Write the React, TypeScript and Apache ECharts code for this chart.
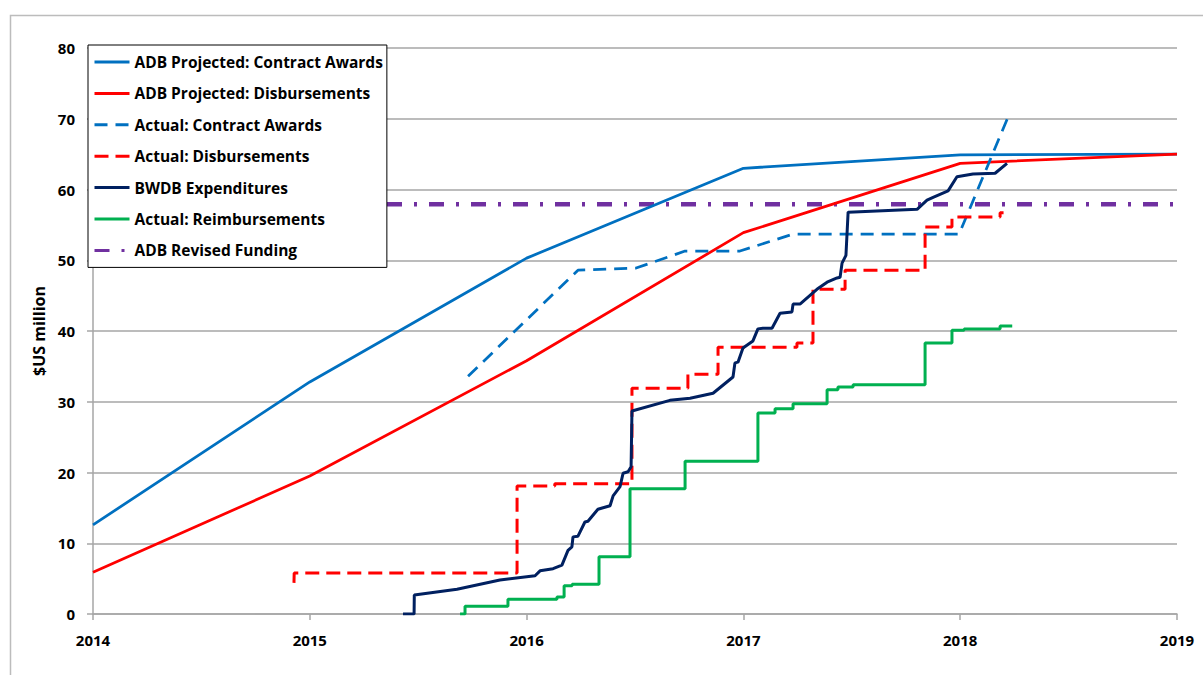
import React, { useEffect, useRef } from "react";
import * as echarts from "echarts";

// ---- Data (decimal years, $US million) ----
const projYears = [2014, 2015, 2016, 2017, 2018, 2019];
const projAwards = [12.6, 32.8, 50.3, 63.0, 64.9, 65.0];
const projDisb = [5.9, 19.5, 35.8, 53.9, 63.7, 65.0];

const actAwardsYears = [2015.73, 2016.237, 2016.505, 2016.731, 2016.984, 2017.229, 2017.995, 2018.22];
const actAwardsValues = [33.6, 48.6, 48.9, 51.3, 51.3, 53.7, 53.7, 70.2];

const actDisbYears = [2014.927, 2014.928, 2015.956, 2016.13, 2016.486, 2016.744, 2016.883, 2017.247, 2017.321, 2017.469, 2017.838, 2017.962, 2018.184, 2018.2];
const actDisbValues = [4.4, 5.8, 18.1, 18.4, 31.9, 33.9, 37.7, 38.3, 45.9, 48.6, 54.7, 56.1, 56.7, 56.7];

const bwdbYears = [
  2015.43, 2015.481, 2015.482, 2015.679, 2015.877, 2016.039, 2016.062, 2016.122, 2016.163, 2016.191,
  2016.209, 2016.214, 2016.237, 2016.269, 2016.283, 2016.329, 2016.385, 2016.399, 2016.431, 2016.445,
  2016.468, 2016.482, 2016.486, 2016.661, 2016.754, 2016.86, 2016.952, 2016.961, 2016.975, 2016.998,
  2017.044, 2017.067, 2017.09, 2017.132, 2017.169, 2017.224, 2017.229, 2017.261, 2017.339, 2017.386,
  2017.432, 2017.446, 2017.455, 2017.473, 2017.483, 2017.801, 2017.847, 2017.875, 2017.944, 2017.985,
  2018.059, 2018.161, 2018.216,
];
const bwdbValues = [
  0, 0, 2.7, 3.5, 4.8, 5.4, 6.1, 6.4, 6.9, 9.0,
  9.5, 10.9, 11.0, 13.0, 13.1, 14.8, 15.3, 16.7, 18.0, 19.9,
  20.1, 20.8, 28.7, 30.2, 30.5, 31.2, 33.5, 35.5, 35.6, 37.6,
  38.6, 40.3, 40.4, 40.4, 42.5, 42.7, 43.8, 43.8, 45.9, 46.9,
  47.5, 47.6, 49.6, 50.7, 56.8, 57.2, 58.5, 58.9, 59.8, 61.8,
  62.2, 62.3, 63.7,
];

const reimbYears = [2015.693, 2015.716, 2015.914, 2016.14, 2016.173, 2016.21, 2016.334, 2016.477, 2016.731, 2017.067, 2017.146, 2017.229, 2017.386, 2017.436, 2017.506, 2017.838, 2017.962, 2018.018, 2018.184, 2018.24];
const reimbValues = [0, 1.1, 2.1, 2.4, 4.0, 4.2, 8.1, 17.7, 21.6, 28.4, 29.0, 29.7, 31.7, 32.1, 32.4, 38.3, 40.1, 40.3, 40.7, 40.7];

const revisedYears = [2014, 2019];
const revisedValues = [57.9, 57.9];

const seriesNames = [
  "ADB Projected: Contract Awards",
  "ADB Projected: Disbursements",
  "Actual: Contract Awards",
  "Actual: Disbursements",
  "BWDB Expenditures",
  "Actual: Reimbursements",
  "ADB Revised Funding",
];

const zip = (xs: number[], ys: number[]) => xs.map((x, i) => [x, ys[i]]);

const FONT = "'Open Sans', Lato, 'Liberation Sans', sans-serif";

export default function App() {
  const ref = useRef<HTMLDivElement>(null);
  useEffect(() => {
    if (!ref.current) return;
    const chart = echarts.init(ref.current, undefined, { renderer: "svg" });
    const base = { type: "line", symbol: "none", showSymbol: false, animation: false };
    chart.setOption({
      animation: false,
      backgroundColor: "#ffffff",
      textStyle: { fontFamily: FONT },
      grid: { left: 93, right: 26, top: 48, bottom: 61, containLabel: false },
      graphic: [
        {
          type: "rect",
          z: -1,
          shape: { x: 10.5, y: 15.5, width: 1400, height: 800 },
          style: { fill: "none", stroke: "#bcbcbc", lineWidth: 1.5 },
          silent: true,
        },
      ],
      xAxis: {
        type: "value",
        min: 2014,
        max: 2019,
        interval: 1,
        axisLine: { show: true, lineStyle: { color: "#a6a6a6", width: 1.5 } },
        axisTick: { show: true, length: 6, lineStyle: { color: "#a6a6a6", width: 1.5 } },
        splitLine: { show: false },
        axisLabel: {
          margin: 18,
          fontSize: 15,
          fontWeight: "bold",
          color: "#000",
          fontFamily: FONT,
          formatter: (v: number) => String(Math.round(v)),
        },
      },
      yAxis: {
        type: "value",
        min: 0,
        max: 80,
        interval: 10,
        name: "$US million",
        nameLocation: "middle",
        nameGap: 29,
        nameTextStyle: { fontSize: 16, fontWeight: "bold", color: "#000", fontFamily: FONT },
        axisLine: { show: true, lineStyle: { color: "#a6a6a6", width: 1.5 } },
        axisTick: { show: true, length: 6, lineStyle: { color: "#a6a6a6", width: 1.5 } },
        splitLine: { show: true, lineStyle: { color: "#a6a6a6", width: 1.5 } },
        axisLabel: { margin: 18, fontSize: 15, fontWeight: "bold", color: "#000", fontFamily: FONT },
      },
      legend: {
        orient: "vertical",
        left: 88,
        top: 45,
        data: seriesNames,
        backgroundColor: "#ffffff",
        borderColor: "#000000",
        borderWidth: 1,
        borderRadius: 0,
        padding: [9, 4, 9, 5],
        itemWidth: 35,
        itemHeight: 14,
        itemGap: 15.4,
        itemStyle: { opacity: 0 },
        lineStyle: { width: 3 },
        textStyle: { fontSize: 15.5, lineHeight: 14, fontWeight: "bold", color: "#000", fontFamily: FONT },
        z: 10,
      },
      series: [
        {
          ...base,
          name: seriesNames[6],
          data: zip(revisedYears, revisedValues),
          lineStyle: { color: "#7030a0", width: 4.5, type: [15, 12, 3, 12] },
          itemStyle: { color: "#7030a0" },
          z: 2,
        },
        {
          ...base,
          name: seriesNames[0],
          data: zip(projYears, projAwards),
          lineStyle: { color: "#0070c0", width: 2.75 },
          itemStyle: { color: "#0070c0" },
          z: 3,
        },
        {
          ...base,
          name: seriesNames[1],
          data: zip(projYears, projDisb),
          lineStyle: { color: "#ff0000", width: 2.75 },
          itemStyle: { color: "#ff0000" },
          z: 3,
        },
        {
          ...base,
          name: seriesNames[2],
          data: zip(actAwardsYears, actAwardsValues),
          lineStyle: { color: "#0070c0", width: 2.75, type: [13, 8] },
          itemStyle: { color: "#0070c0" },
          z: 3,
        },
        {
          ...base,
          name: seriesNames[3],
          step: "end",
          data: zip(actDisbYears, actDisbValues),
          lineStyle: { color: "#ff0000", width: 3, type: [14, 7] },
          itemStyle: { color: "#ff0000" },
          z: 3,
        },
        {
          ...base,
          name: seriesNames[4],
          data: zip(bwdbYears, bwdbValues),
          lineStyle: { color: "#002060", width: 3 },
          itemStyle: { color: "#002060" },
          z: 4,
        },
        {
          ...base,
          name: seriesNames[5],
          step: "end",
          data: zip(reimbYears, reimbValues),
          lineStyle: { color: "#00b050", width: 3 },
          itemStyle: { color: "#00b050" },
          z: 4,
        },
      ],
    });
    return () => chart.dispose();
  }, []);
  return (
    <div
      ref={ref}
      style={{ position: "absolute", left: 0, top: 0, width: 1203, height: 675 }}
    />
  );
}
